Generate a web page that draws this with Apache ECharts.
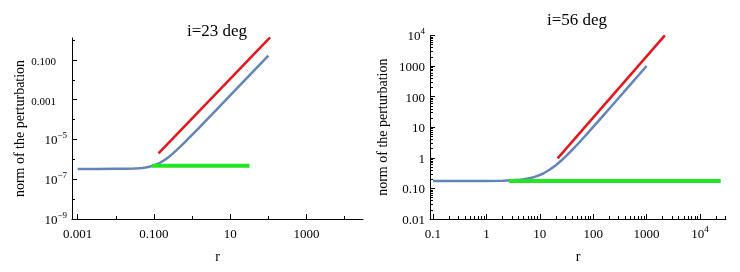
<!DOCTYPE html>
<html>
<head>
<meta charset="utf-8">
<script src="https://cdn.jsdelivr.net/npm/echarts@6/dist/echarts.min.js"></script>
<style>
  html, body { margin: 0; padding: 0; background: #fff; }
  #chart { width: 740px; height: 272px; }
</style>
</head>
<body>
<div id="chart"></div>
<script>
// ---------------- data ----------------
// Left panel: i=23 deg
const leftTitle = 'i=23 deg';
const leftBlueR = [0.001, 0.003, 0.01, 0.02, 0.03, 0.04, 0.05, 0.06, 0.07, 0.08, 0.09, 0.1, 0.12, 0.14, 0.17, 0.2, 0.25, 0.3, 0.4, 0.5, 0.7, 1, 1.5, 2, 3, 5, 10, 20, 50, 100];
const leftBlueY = [3.30e-7, 3.30e-7, 3.32e-7, 3.37e-7, 3.45e-7, 3.56e-7, 3.71e-7, 3.89e-7, 4.11e-7, 4.36e-7, 4.64e-7, 4.95e-7, 5.68e-7, 6.53e-7, 8.07e-7, 9.9e-7, 1.36e-6, 1.82e-6, 2.97e-6, 4.46e-6, 8.41e-6, 1.68e-5, 3.75e-5, 6.63e-5, 1.49e-4, 4.13e-4, 1.65e-3, 6.6e-3, 0.0413, 0.165];
const leftRedR = [0.132, 111];
const leftRedY = [2.0e-6, 1.35];
const leftGreenR = [0.089, 32];
const leftGreenY = [4.8e-7, 4.8e-7];
const leftXTicks = [0.001, 0.1, 10, 1000];
const leftXTickLabels = ['0.001', '0.100', '10', '1000'];
const leftXMinor = [0.01, 1, 100, 10000];
const leftYTicks = [1e-9, 1e-7, 1e-5, 0.001, 0.1];
const leftYTickLabels = ['10^−9', '10^−7', '10^−5', '0.001', '0.100'];
const leftYMinor = [1e-8, 1e-6, 1e-4, 0.01, 1];

// Right panel: i=56 deg
const rightTitle = 'i=56 deg';
const rightBlueR = [0.1, 1, 2, 3, 4, 5, 6, 7, 8, 10, 12, 15, 20, 25, 30, 40, 50, 70, 100, 150, 200, 300, 500, 700, 1000];
const rightBlueY = [0.174, 0.175, 0.178, 0.183, 0.190, 0.199, 0.210, 0.223, 0.238, 0.274, 0.318, 0.399, 0.574, 0.799, 1.07, 1.77, 2.67, 5.07, 10.2, 22.7, 40.2, 90.2, 250, 490, 1000];
const rightRedR = [21.6, 2200];
const rightRedY = [0.96, 10000];
const rightGreenR = [2.66, 24500];
const rightGreenY = [0.174, 0.174];
const rightXTicks = [0.1, 1, 10, 100, 1000, 10000];
const rightXTickLabels = ['0.1', '1', '10', '100', '1000', '10^4'];
const rightYTicks = [0.01, 0.1, 1, 10, 100, 1000, 10000];
const rightYTickLabels = ['0.01', '0.10', '1', '10', '100', '1000', '10^4'];

const xName = 'r';
const yName = 'norm of the perturbation';

// ---------------- helpers ----------------
const L = Math.log10;
const pts = (xs, ys) => xs.map((x, i) => [L(x), L(ys[i])]);
const logMinor = (from, to) => {
  const out = [];
  for (let n = from; n < to; n++) for (let k = 2; k <= 9; k++) out.push(L(k) + n);
  return out;
};
const labelMap = (ticks, labels) => {
  const m = {};
  ticks.forEach((t, i) => { m[L(t).toFixed(3)] = labels[i]; });
  return m;
};
const fmt = (map, decStyle) => v => {
  const s = map[(+v).toFixed(3)];
  if (s == null) return '';
  if (s.indexOf('^') >= 0) {
    const p = s.split('^');
    return '{b|' + p[0] + '}{sup|' + p[1] + '}';
  }
  return '{' + decStyle + '|' + s + '}';
};
const FONT = '"Liberation Serif", "Times New Roman", serif';
const rich = {
  b: { fontSize: 13, lineHeight: 16, verticalAlign: 'bottom', fontFamily: FONT, color: '#000' },
  d: { fontSize: 13, lineHeight: 16, verticalAlign: 'bottom', fontFamily: FONT, color: '#000' },
  ld: { fontSize: 11, lineHeight: 16, verticalAlign: 'bottom', fontFamily: FONT, color: '#000', padding: [0, 11, 0, 0] },
  sup: { fontSize: 9, lineHeight: 9, verticalAlign: 'top', fontFamily: FONT, color: '#000' }
};
const lineStyle = { color: '#000', width: 1 };

function mainAxis(gridIndex, min, max, ticks, labels, decStyle, name, nameGap, isY) {
  const ax = {
    type: 'value', gridIndex, min, max,
    position: isY ? 'left' : 'bottom',
    axisLine: { show: true, onZero: false, lineStyle },
    axisTick: { show: true, inside: true, length: 5, lineStyle, customValues: ticks.map(L) },
    axisLabel: {
      show: true, margin: isY ? 5 : 6, customValues: ticks.map(L),
      formatter: fmt(labelMap(ticks, labels), decStyle), rich
    },
    splitLine: { show: false },
    name, nameLocation: 'middle', nameGap,
    nameTextStyle: { fontFamily: FONT, fontSize: 14, color: '#000' }
  };
  if (isY) ax.nameRotate = 90;
  return ax;
}
function minorAxis(gridIndex, min, max, vals, isY) {
  return {
    type: 'value', gridIndex, min, max,
    position: isY ? 'left' : 'bottom',
    axisLine: { show: false, onZero: false },
    axisTick: { show: true, inside: true, length: 3, lineStyle, customValues: vals },
    axisLabel: { show: false },
    splitLine: { show: false }
  };
}

const BLUE = '#6384b7', RED = '#e3161b', GREEN = '#24e524';
function line(xi, yi, data, color, width, z) {
  return {
    type: 'line', xAxisIndex: xi, yAxisIndex: yi, data,
    showSymbol: false, symbol: 'none', smooth: false,
    lineStyle: { color, width, cap: 'butt', join: 'round' }, z, silent: true, clip: true
  };
}

const lx = [-3.147, 4.48], ly = [-9, 0.1];
const rx = [-1.056, 4.487], ry = [-2, 4];

const option = {
  animation: false,
  backgroundColor: '#fff',
  title: [
    { text: leftTitle, left: 217, top: 23, textAlign: 'center', padding: 0,
      textStyle: { fontFamily: FONT, fontSize: 17, fontWeight: 'normal', color: '#000' } },
    { text: rightTitle, left: 577, top: 12, textAlign: 'center', padding: 0,
      textStyle: { fontFamily: FONT, fontSize: 17, fontWeight: 'normal', color: '#000' } }
  ],
  grid: [
    { left: 72, top: 38, width: 291, height: 181 },
    { left: 430, top: 35.4, width: 296, height: 183.6 }
  ],
  xAxis: [
    mainAxis(0, lx[0], lx[1], leftXTicks, leftXTickLabels, 'd', xName, 31, false),
    minorAxis(0, lx[0], lx[1], leftXMinor.map(L), false),
    mainAxis(1, rx[0], rx[1], rightXTicks, rightXTickLabels, 'd', xName, 31, false),
    minorAxis(1, rx[0], rx[1], logMinor(-1, 5), false)
  ],
  yAxis: [
    mainAxis(0, ly[0], ly[1], leftYTicks, leftYTickLabels, 'ld', yName, 44, true),
    minorAxis(0, ly[0], ly[1], leftYMinor.map(L), true),
    mainAxis(1, ry[0], ry[1], rightYTicks, rightYTickLabels, 'd', yName, 40, true),
    minorAxis(1, ry[0], ry[1], logMinor(-2, 4), true)
  ],
  series: [
    line(0, 0, pts(leftBlueR, leftBlueY), BLUE, 2.5, 2),
    line(0, 0, pts(leftRedR, leftRedY), RED, 2.5, 3),
    line(0, 0, pts(leftGreenR, leftGreenY), GREEN, 4, 4),
    line(2, 2, pts(rightBlueR, rightBlueY), BLUE, 2.5, 2),
    line(2, 2, pts(rightRedR, rightRedY), RED, 2.5, 3),
    line(2, 2, pts(rightGreenR, rightGreenY), GREEN, 4, 4)
  ]
};

const chart = echarts.init(document.getElementById('chart'), null, { renderer: 'canvas' });
chart.setOption(option);
</script>
</body>
</html>
